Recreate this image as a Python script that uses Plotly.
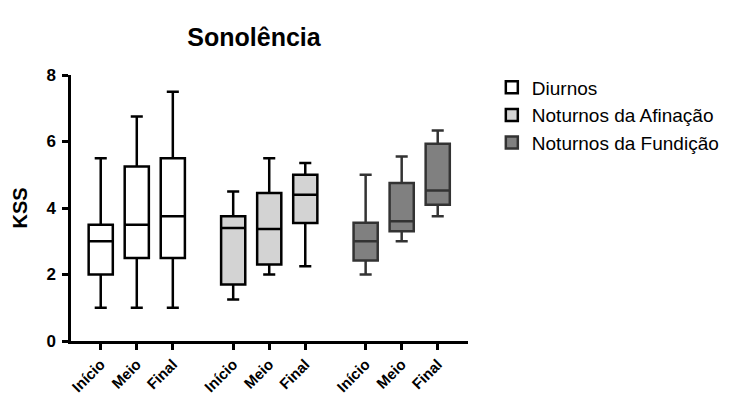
import plotly.graph_objects as go

groups = ["Diurnos", "Noturnos da Afinação", "Noturnos da Fundição"]
moments = ["Início", "Meio", "Final"]
positions = [[1, 2, 3], [4.675, 5.675, 6.675], [8.35, 9.35, 10.35]]

lower = [[1.0, 1.0, 1.0], [1.25, 2.0, 2.25], [2.0, 3.0, 3.75]]
q1 = [[2.0, 2.5, 2.5], [1.7, 2.3, 3.55], [2.42, 3.3, 4.1]]
median = [[3.0, 3.5, 3.75], [3.4, 3.37, 4.4], [3.0, 3.6, 4.53]]
q3 = [[3.5, 5.25, 5.5], [3.75, 4.45, 5.0], [3.56, 4.75, 5.93]]
upper = [[5.5, 6.75, 7.5], [4.5, 5.5, 5.35], [5.0, 5.55, 6.33]]

fills = ["#ffffff", "#d3d3d3", "#808080"]
lines = ["#000000", "#000000", "#333333"]

fig = go.Figure()
for g in range(3):
    fig.add_trace(go.Box(
        name=groups[g],
        x=positions[g],
        q1=q1[g], median=median[g], q3=q3[g],
        lowerfence=lower[g], upperfence=upper[g],
        fillcolor=fills[g],
        line=dict(color=lines[g], width=2.5),
        width=0.67,
        whiskerwidth=0.5,
        boxpoints=False,
        hoverinfo="skip",
    ))

tickvals = [p for grp in positions for p in grp]
ticktext = ["<b>" + t + "</b>" for t in moments * 3]

fig.update_layout(
    width=747, height=394,
    margin=dict(l=63, r=287, t=67, b=61, autoexpand=False),
    plot_bgcolor="white", paper_bgcolor="white",
    font=dict(family="Liberation Sans, Arial", color="black"),
    title=dict(text="<b>Sonolência</b>", x=246/747, xanchor="center", y=1 - 29/394, yanchor="middle",
               font=dict(size=25, color="black")),
    showlegend=True,
    legend=dict(x=1.06, y=1.025, xanchor="left", yanchor="top", font=dict(size=19, color="black"),
                bgcolor="rgba(0,0,0,0)", itemwidth=30),
)
fig.update_xaxes(
    range=[0.175, 11.19], tickmode="array", tickvals=tickvals, ticktext=ticktext,
    tickangle=-45, tickfont=dict(size=15, family="Liberation Sans, Arial", color="black"),
    showline=True, linecolor="black", linewidth=2.5, ticks="outside", ticklen=6, tickwidth=2.5,
    tickcolor="black", showgrid=False, zeroline=False, automargin=False,
)
fig.update_yaxes(
    range=[0, 8], tickvals=[0, 2, 4, 6, 8], ticktext=["<b>0</b>", "<b>2</b>", "<b>4</b>", "<b>6</b>", "<b>8</b>"],
    tickfont=dict(size=17, color="black"), ticklabelstandoff=3,
    showline=True, linecolor="black", linewidth=2.5, ticks="outside", ticklen=6, tickwidth=2.5,
    tickcolor="black", showgrid=False, zeroline=False, automargin=False,
    title=dict(text="<b>KSS</b>", font=dict(size=20, color="black"), standoff=14),
)

fig.write_html("out.html")
